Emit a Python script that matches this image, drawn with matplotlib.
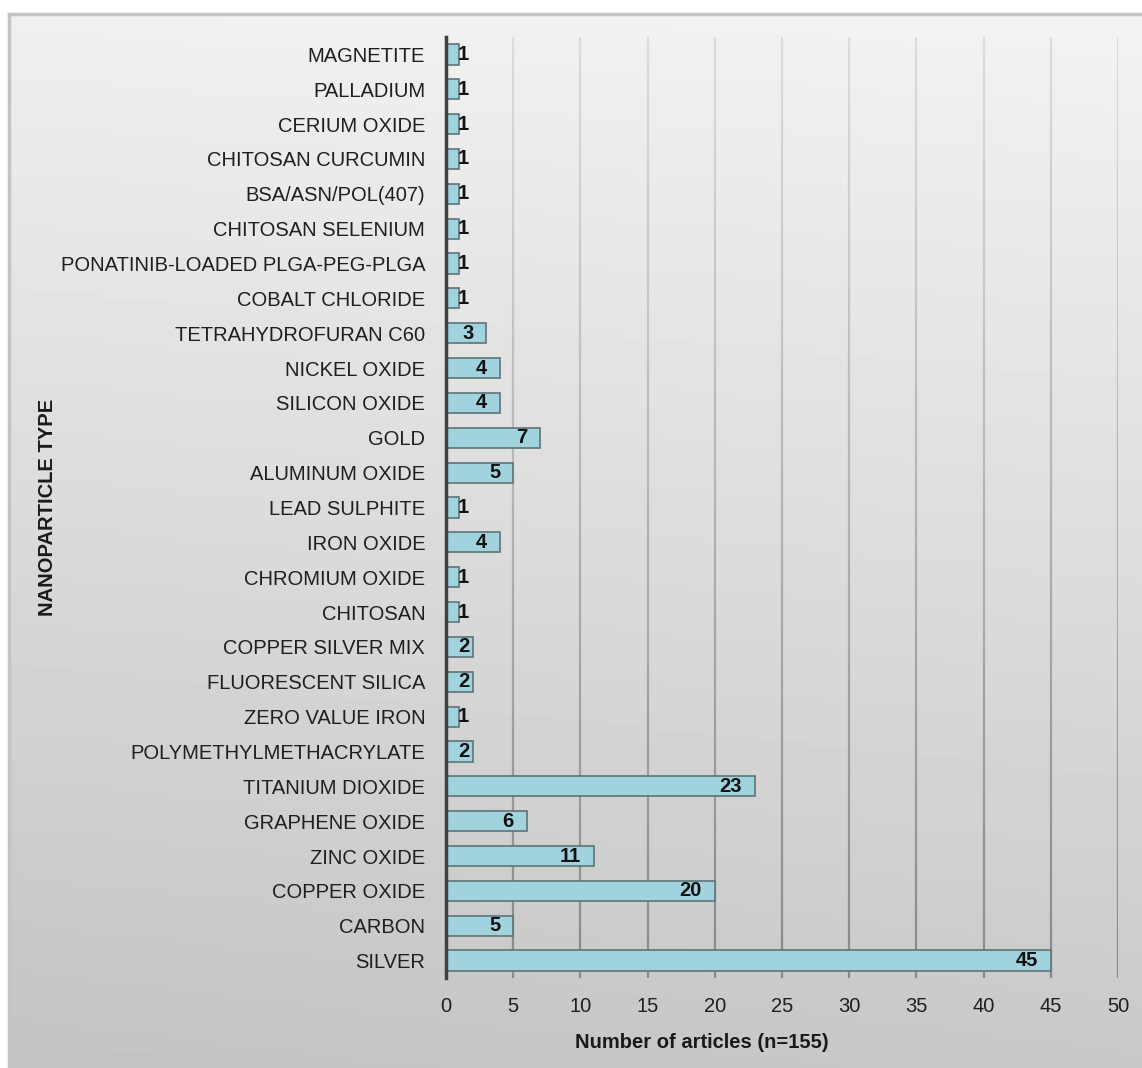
import numpy as np
import matplotlib
matplotlib.use("Agg")
import matplotlib.pyplot as plt
from matplotlib.collections import LineCollection

# data, top to bottom as in the chart
categories = [
    "MAGNETITE", "PALLADIUM", "CERIUM OXIDE", "CHITOSAN CURCUMIN",
    "BSA/ASN/POL(407)", "CHITOSAN SELENIUM", "PONATINIB-LOADED PLGA-PEG-PLGA",
    "COBALT CHLORIDE", "TETRAHYDROFURAN C60", "NICKEL OXIDE", "SILICON OXIDE",
    "GOLD", "ALUMINUM OXIDE", "LEAD SULPHITE", "IRON OXIDE", "CHROMIUM OXIDE",
    "CHITOSAN", "COPPER SILVER MIX", "FLUORESCENT SILICA", "ZERO VALUE IRON",
    "POLYMETHYLMETHACRYLATE", "TITANIUM DIOXIDE", "GRAPHENE OXIDE",
    "ZINC OXIDE", "COPPER OXIDE", "CARBON", "SILVER",
]
counts = [1, 1, 1, 1, 1, 1, 1, 1, 3, 4, 4, 7, 5, 1, 4, 1, 1, 2, 2, 1, 2,
          23, 6, 11, 20, 5, 45]
x_ticks = list(range(0, 55, 5))
x_label = "Number of articles (n=155)"
y_label = "NANOPARTICLE TYPE"

plt.rcParams["font.family"] = ["Liberation Sans", "DejaVu Sans"]

W, H = 1142, 1068
fig = plt.figure(figsize=(W / 100, H / 100), dpi=100)
fig.patch.set_facecolor("white")

# gradient background panel
bg = fig.add_axes([9 / W, 0, 1 - 9 / W, 1 - 14 / H], zorder=0)
yy = np.linspace(0, 1, 200)[:, None]
xx = np.linspace(0, 1, 200)[None, :]
shade = 0.94 - 0.165 * yy + 0.012 * xx - 0.01 * (1 - xx) * yy
bg.imshow(shade, cmap="gray", vmin=0, vmax=1, aspect="auto",
          extent=[0, 1, 0, 1], origin="upper")
bg.set_xlim(0, 1)
bg.set_ylim(0, 1)
bg.set_xticks([])
bg.set_yticks([])
for s in ["right", "bottom"]:
    bg.spines[s].set_visible(False)
for s in ["top", "left"]:
    bg.spines[s].set_color("#c4c4c4")
    bg.spines[s].set_linewidth(2.5)

ax = fig.add_axes([446 / W, 1 - 978 / H, 672 / W, 941 / H], zorder=1)
ax.set_facecolor("none")

y = np.arange(len(categories))
ax.barh(y, counts, height=0.58, color="#a1d3df", edgecolor="#5f7378",
        linewidth=1.2, zorder=3)

ax.set_xlim(0, 50)
ax.set_ylim(len(categories) - 0.5, -0.5)

# gridlines with a vertical fade, like the original
n = 60
ys = np.linspace(-0.5, len(categories) - 0.5, n + 1)
cols = [plt.cm.gray(0.86 - 0.33 * i / n) for i in range(n)]
for xt in x_ticks[1:]:
    segs = [[(xt, ys[i]), (xt, ys[i + 1])] for i in range(n)]
    ax.add_collection(LineCollection(segs, colors=cols, linewidths=1.6, zorder=1))

fs = 14.5
ax.set_xticks(x_ticks)
ax.set_yticks(y)
ax.set_yticklabels(categories)
ax.tick_params(axis="y", length=0, pad=15, labelsize=fs, colors="#1f1f1f")
ax.tick_params(axis="x", length=0, pad=14, labelsize=fs, colors="#1f1f1f")
for s in ["top", "right", "bottom"]:
    ax.spines[s].set_visible(False)
ax.spines["left"].set_color("#404040")
ax.spines["left"].set_linewidth(2.5)
ax.spines["left"].set_zorder(4)

ax.set_xlabel(x_label, fontsize=fs, fontweight="bold", color="#1a1a1a")
ax.xaxis.set_label_coords(0.38, -0.058)
ax.set_ylabel(y_label, fontsize=fs, fontweight="bold", color="#1a1a1a")
ax.yaxis.set_label_coords(-0.579, 0.5)

# value labels near the bar end (pushed right when the bar is short)
px = 72 / 100
for yi, v in zip(y, counts):
    if v * 13.44 < 36:
        ax.annotate(str(v), (0, yi), xytext=(12 * px, 0), textcoords="offset points",
                    ha="left", va="center", fontsize=fs, fontweight="bold",
                    color="#111111", zorder=5)
    else:
        ax.annotate(str(v), (v, yi), xytext=(-13 * px, 0), textcoords="offset points",
                    ha="right", va="center", fontsize=fs, fontweight="bold",
                    color="#111111", zorder=5)

fig.savefig("out.png", dpi=100)
